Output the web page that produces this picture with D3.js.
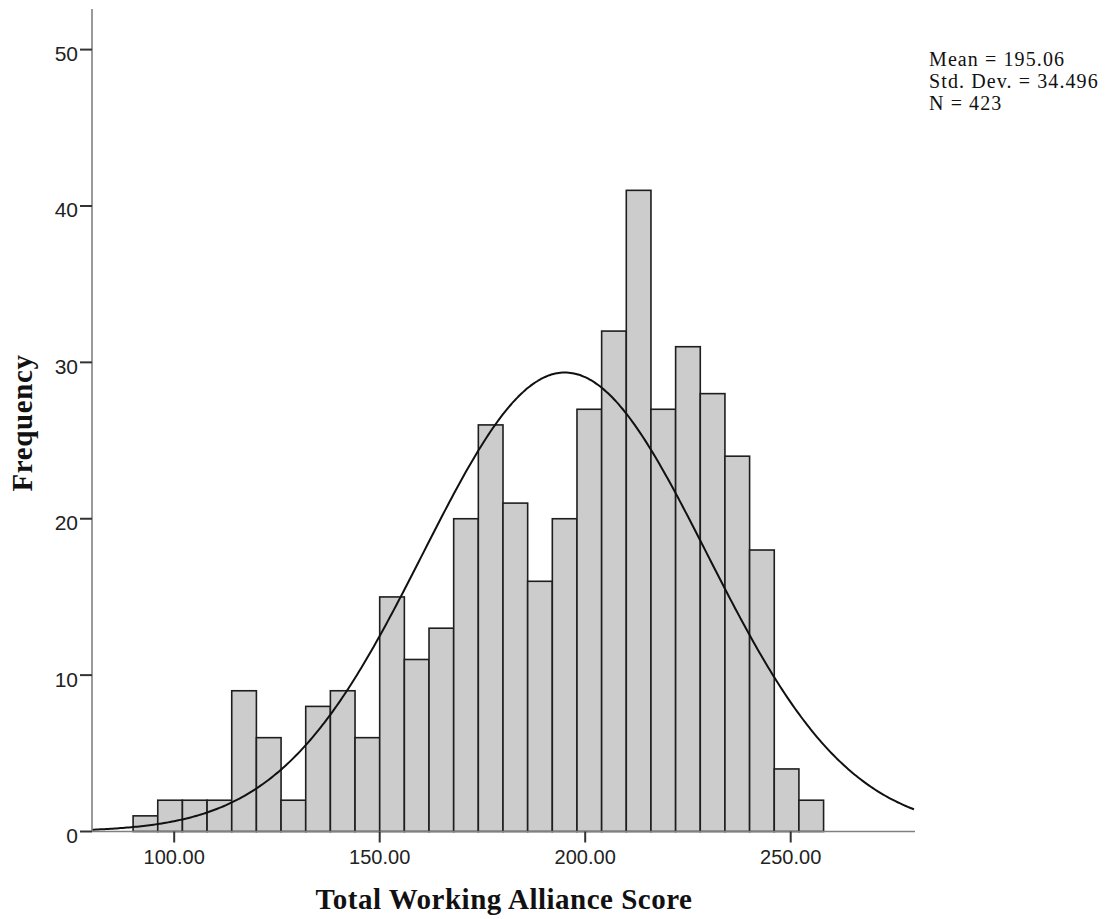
<!DOCTYPE html>
<html>
<head>
<meta charset="utf-8">
<script src="https://cdn.jsdelivr.net/npm/d3@7"></script>
<style>
  html, body { margin: 0; padding: 0; background: #fff; }
  svg { display: block; }
</style>
</head>
<body>
<svg id="chart" width="1107" height="919"></svg>
<script>
// ---- data ----
const binStart = 90;
const binWidth = 6;
const frequencies = [1, 2, 2, 2, 9, 6, 2, 8, 9, 6, 15, 11, 13, 20, 26, 21, 16, 20, 27, 32, 41, 27, 31, 28, 24, 18, 4, 2];
const xTicks = [100, 150, 200, 250];
const yTicks = [0, 10, 20, 30, 40, 50];
const statLines = ["Mean = 195.06", "Std. Dev. = 34.496", "N = 423"];
const stats = { mean: 195.06, sd: 34.496, n: 423 };
const xLabel = "Total Working Alliance Score";
const yLabel = "Frequency";

// ---- layout ----
const svg = d3.select("#chart");
const x = d3.scaleLinear().domain([80, 280]).range([92, 914]);
const y = d3.scaleLinear().domain([0, 50]).range([831.5, 49.6]);

const bins = frequencies.map((f, i) => ({ x0: binStart + i * binWidth, x1: binStart + (i + 1) * binWidth, f }));

// bars
svg.append("g").selectAll("rect").data(bins).join("rect")
  .attr("x", d => x(d.x0))
  .attr("y", d => y(d.f))
  .attr("width", d => x(d.x1) - x(d.x0))
  .attr("height", d => y(0) - y(d.f))
  .attr("fill", "#cccccc")
  .attr("stroke", "#1e1e1e")
  .attr("stroke-width", 1.6);

// fitted normal curve (from the displayed mean, SD and N)
const scale = stats.n * binWidth;
const pdf = v => Math.exp(-0.5 * Math.pow((v - stats.mean) / stats.sd, 2)) / (stats.sd * Math.sqrt(2 * Math.PI));
const curvePts = d3.range(80, 280.01, 0.5).map(v => [v, scale * pdf(v)]);
svg.append("path")
  .datum(curvePts)
  .attr("fill", "none")
  .attr("stroke", "#111")
  .attr("stroke-width", 2)
  .attr("d", d3.line().x(d => x(d[0])).y(d => y(d[1])).curve(d3.curveBasis));

// axis lines
svg.append("line").attr("x1", 92).attr("x2", 92).attr("y1", 9).attr("y2", 831.5)
  .attr("stroke", "#808080").attr("stroke-width", 1.6);
svg.append("line").attr("x1", 92).attr("x2", 915).attr("y1", y(0)).attr("y2", y(0))
  .attr("stroke", "#808080").attr("stroke-width", 1.6);

// y ticks
const yg = svg.append("g");
yg.selectAll("line").data(yTicks).join("line")
  .attr("x1", 80).attr("x2", 92)
  .attr("y1", d => y(d)).attr("y2", d => y(d))
  .attr("stroke", "#333").attr("stroke-width", 2);
yg.selectAll("text").data(yTicks).join("text")
  .attr("x", 78).attr("y", d => y(d) + 11.5)
  .attr("text-anchor", "end")
  .attr("font-family", "Liberation Sans, Arial, sans-serif")
  .attr("font-size", 21)
  .attr("fill", "#222")
  .text(d => d);

// x ticks
const xg = svg.append("g");
xg.selectAll("line").data(xTicks).join("line")
  .attr("x1", d => x(d)).attr("x2", d => x(d))
  .attr("y1", y(0)).attr("y2", y(0) + 11)
  .attr("stroke", "#333").attr("stroke-width", 2);
xg.selectAll("text").data(xTicks).join("text")
  .attr("x", d => x(d)).attr("y", 864)
  .attr("text-anchor", "middle")
  .attr("font-family", "Liberation Sans, Arial, sans-serif")
  .attr("font-size", 20)
  .attr("fill", "#222")
  .text(d => d3.format(".2f")(d));

// axis titles
svg.append("text")
  .attr("x", 504).attr("y", 909)
  .attr("text-anchor", "middle")
  .attr("font-family", "Liberation Serif, Times New Roman, serif")
  .attr("font-weight", "bold")
  .attr("font-size", 29)
  .attr("letter-spacing", 0.5)
  .attr("fill", "#111")
  .text(xLabel);

svg.append("text")
  .attr("transform", "translate(32,423) rotate(-90)")
  .attr("text-anchor", "middle")
  .attr("font-family", "Liberation Serif, Times New Roman, serif")
  .attr("font-weight", "bold")
  .attr("font-size", 29)
  .attr("letter-spacing", 0.6)
  .attr("fill", "#111")
  .text(yLabel);

// stats
svg.append("g").selectAll("text").data(statLines).join("text")
  .attr("x", 929).attr("y", (d, i) => 65.5 + i * 22.2)
  .attr("font-family", "Liberation Serif, Times New Roman, serif")
  .attr("font-size", 20)
  .attr("letter-spacing", 1.1)
  .attr("fill", "#111")
  .text(d => d);
</script>
</body>
</html>
